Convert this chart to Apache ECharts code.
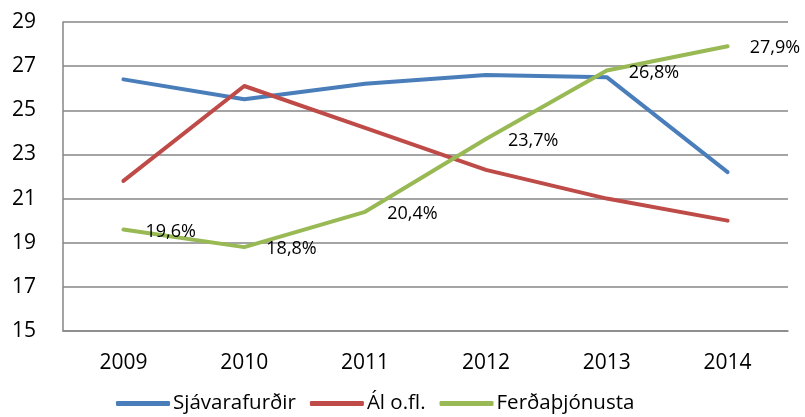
<!DOCTYPE html>
<html>
<head>
<meta charset="utf-8">
<script src="https://cdn.jsdelivr.net/npm/echarts@6/dist/echarts.min.js"></script>
<style>
  html, body { margin: 0; padding: 0; background: #fff; }
  #chart { width: 805px; height: 417px; }
</style>
</head>
<body>
<div id="chart"></div>
<script>
// ar
const years = ['2009', '2010', '2011', '2012', '2013', '2014']
// hlutfall af utflutningi
const sjavarafurdir = [26.4, 25.5, 26.2, 26.6, 26.5, 22.2]
const al = [21.8, 26.1, 24.2, 22.3, 21.0, 20.0]
const ferdathjonusta = [19.6, 18.8, 20.4, 23.7, 26.8, 27.9]
const seriesNames = ['Sjávarafurðir', 'Ál o.fl.', 'Ferðaþjónusta']
const colors = ['#4A7EBB', '#BE4B48', '#98B954']

const font = '"Open Sans", "Noto Sans", sans-serif'
const myChart = echarts.init(document.getElementById('chart'))

function line (name, data, color, withLabels) {
  return {
    name: name,
    type: 'line',
    data: data,
    symbol: 'circle',
    symbolSize: 0.1,
    showSymbol: true,
    color: color,
    itemStyle: { color: color },
    lineStyle: { width: 4, color: color, cap: 'round', join: 'round' },
    label: {
      show: withLabels,
      position: 'right',
      distance: 22,
      offset: [0, 2],
      color: '#000',
      fontFamily: font,
      fontSize: 18,
      formatter: p => p.value.toFixed(1).replace('.', ',') + '%'
    },
    z: withLabels ? 3 : 2
  }
}

myChart.setOption({
  animation: false,
  grid: { left: 63, right: 17, top: 22, bottom: 86 },
  legend: {
    bottom: -2,
    left: 111,
    icon: 'roundRect',
    itemWidth: 54,
    itemHeight: 5,
    itemGap: 14,
    textStyle: { fontFamily: font, fontSize: 20.5, color: '#000', padding: [0, 0, 0, -2] },
    data: seriesNames
  },
  xAxis: {
    type: 'category',
    data: years,
    boundaryGap: true,
    axisLine: { show: true, lineStyle: { color: '#868686', width: 1.5 } },
    axisTick: { show: false },
    axisLabel: { fontFamily: font, fontSize: 21, color: '#000', margin: 22 }
  },
  yAxis: {
    type: 'value',
    min: 15,
    max: 29,
    interval: 2,
    axisLine: { show: true, lineStyle: { color: '#868686', width: 1.5 } },
    axisTick: { show: false },
    splitLine: { lineStyle: { color: '#868686', width: 1.5 } },
    axisLabel: { fontFamily: font, fontSize: 21, color: '#000', margin: 51, align: 'left' }
  },
  series: [
    line(seriesNames[0], sjavarafurdir, colors[0], false),
    line(seriesNames[1], al, colors[1], false),
    line(seriesNames[2], ferdathjonusta, colors[2], true)
  ]
})
</script>
</body>
</html>
